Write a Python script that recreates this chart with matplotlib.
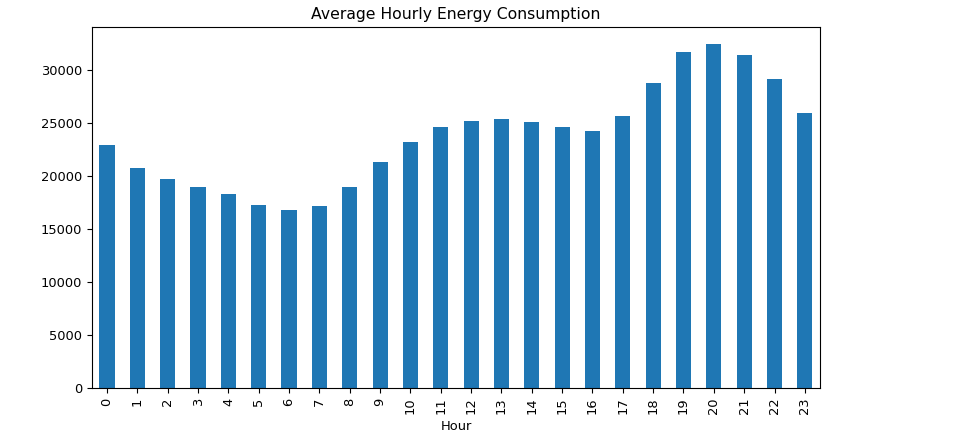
import pandas as pd
import matplotlib
matplotlib.use("Agg")
import matplotlib.pyplot as plt

plt.rcParams["font.size"] = 9.4

# average consumption per hour
hours = list(range(24))
consumption = [22870, 20730, 19670, 18890, 18290, 17220, 16720, 17120,
               18980, 21270, 23220, 24640, 25200, 25350, 25100, 24570,
               24220, 25600, 28720, 31700, 32390, 31360, 29160, 25890]

s = pd.Series(consumption, index=pd.Index(hours, name="Hour"))

fig, ax = plt.subplots(figsize=(9.67, 4.4), dpi=100)
s.plot(kind="bar", ax=ax, color="#1f77b4")
ax.set_title("Average Hourly Energy Consumption")
fig.subplots_adjust(left=0.095, right=0.848, top=0.938, bottom=0.119)
fig.savefig("out.png")
